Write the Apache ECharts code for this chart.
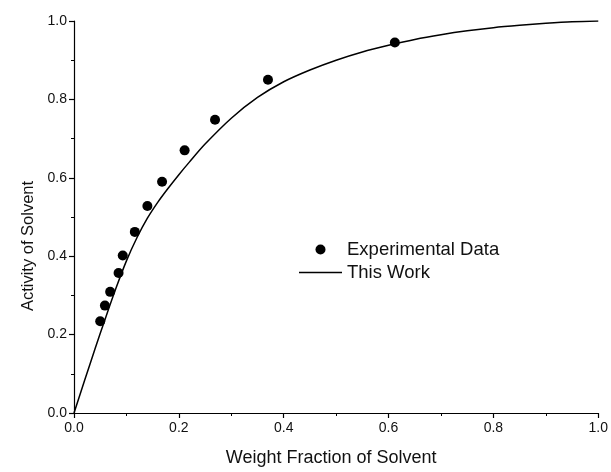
<!DOCTYPE html>
<html>
<head>
<meta charset="utf-8">
<script src="https://cdn.jsdelivr.net/npm/echarts@6/dist/echarts.min.js"></script>
<style>
  html, body { margin: 0; padding: 0; background: #fff; }
  #chart { width: 611px; height: 472px; }
</style>
</head>
<body>
<div id="chart"></div>
<script>
// Measured solvent activity vs. weight fraction of solvent
const expX = [0.050, 0.059, 0.069, 0.085, 0.093, 0.116, 0.140, 0.168, 0.211, 0.269, 0.370, 0.612];
const expY = [0.234, 0.274, 0.309, 0.357, 0.402, 0.462, 0.528, 0.590, 0.670, 0.748, 0.850, 0.945];

// Model curve ("This Work")
const modelX = [0, 0.02, 0.04, 0.06, 0.08, 0.10, 0.12, 0.14, 0.16, 0.18, 0.20, 0.22, 0.25, 0.30,
                0.35, 0.40, 0.45, 0.50, 0.55, 0.60, 0.65, 0.70, 0.75, 0.80, 0.85, 0.90, 0.95, 1.00];
const modelY = [0, 0.082, 0.163, 0.242, 0.318, 0.388, 0.447, 0.497, 0.538, 0.574, 0.608, 0.640, 0.686, 0.752,
                0.805, 0.845, 0.875, 0.900, 0.921, 0.938, 0.953, 0.965, 0.975, 0.983, 0.989, 0.994, 0.998, 1.000];

const seriesNames = ['Experimental Data', 'This Work'];
const xTitle = 'Weight Fraction of Solvent';
const yTitle = 'Activity of Solvent';

const font = 'Liberation Sans, Arial, Helvetica, sans-serif';
const ink = '#000';

function axisCommon() {
  return {
    type: 'value',
    min: 0,
    max: 1,
    interval: 0.2,
    axisLine: { show: true, onZero: false, lineStyle: { color: ink, width: 1.2 } },
    axisTick: { show: true, inside: false, length: 5, lineStyle: { color: ink, width: 1.2 } },
    minorTick: { show: true, splitNumber: 2, length: 3, lineStyle: { color: ink, width: 1 } },
    splitLine: { show: false },
    axisLabel: {
      color: '#111', fontFamily: font, fontSize: 14,
      formatter: v => v.toFixed(1)
    },
    nameLocation: 'middle'
  };
}

const chart = echarts.init(document.getElementById('chart'), null, { renderer: 'canvas' });
chart.setOption({
  animation: false,
  backgroundColor: '#fff',
  grid: { left: 74, right: 12, top: 21, bottom: 59, containLabel: false },
  xAxis: Object.assign(axisCommon(), {
    name: xTitle, nameGap: 36,
    nameTextStyle: { color: '#111', fontFamily: font, fontSize: 18, padding: [0, 10, 0, 0] }
  }),
  yAxis: Object.assign(axisCommon(), {
    name: yTitle, nameGap: 37,
    axisLabel: { color: '#111', fontFamily: font, fontSize: 14, margin: 7, formatter: v => v.toFixed(1) },
    nameTextStyle: { color: '#111', fontFamily: font, fontSize: 16.5, padding: [0, 58, 0, 0] }
  }),
  legend: {
    orient: 'vertical',
    left: 299,
    top: 240,
    padding: 0,
    itemWidth: 43,
    itemHeight: 10,
    itemGap: 4,
    textStyle: { color: '#111', fontFamily: font, fontSize: 18.5 },
    data: [
      { name: seriesNames[0], icon: 'circle' },
      { name: seriesNames[1], icon: 'path://M0,0H100V3H0Z' }
    ]
  },
  series: [
    {
      name: seriesNames[0],
      type: 'scatter',
      symbol: 'circle',
      symbolSize: 10,
      itemStyle: { color: ink, opacity: 1 },
      data: expX.map((x, i) => [x, expY[i]]),
      z: 3
    },
    {
      name: seriesNames[1],
      type: 'line',
      smooth: 0.3,
      showSymbol: false,
      symbol: 'none',
      lineStyle: { color: ink, width: 1.5 },
      itemStyle: { color: ink },
      data: modelX.map((x, i) => [x, modelY[i]]),
      z: 2
    }
  ]
});
</script>
</body>
</html>
